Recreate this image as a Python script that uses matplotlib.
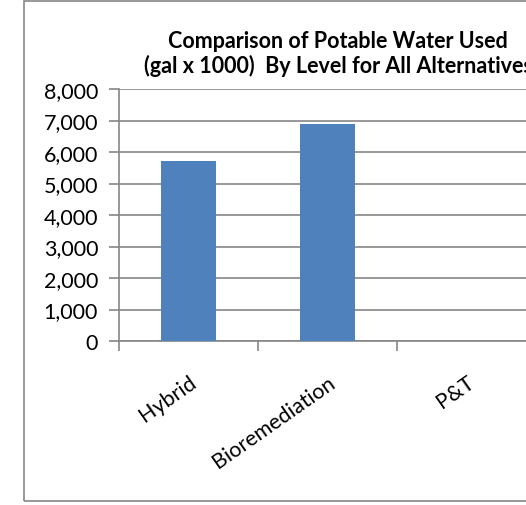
"""
Comparison of potable water used (gal x 1000) by level for all alternatives.
Recreated as an Excel-style column chart; the right side of the chart is
cropped off by the figure edge, as in the original screenshot.
"""

import matplotlib.pyplot as plt
from matplotlib.patches import Rectangle

# --- Data -----------------------------------------------------------------

CATEGORIES = ["Hybrid", "Bioremediation", "P&T"]
WATER_USED = [5700, 6900, 0]
Y_TICKS = [0, 1000, 2000, 3000, 4000, 5000, 6000, 7000, 8000]

TITLE = "Comparison of Potable Water Used\n(gal x 1000)  By Level for All Alternatives"

# --- Style ----------------------------------------------------------------

W, H = 526, 506
DPI = 100
BAR_COLOR = "#4F81BD"
GRID_COLOR = "#868686"
FONT = ["Lato", "DejaVu Sans"]
FS = 15.5

plt.rcParams["font.family"] = FONT


def px(x0, y_top, x1, y_bottom):
    """Pixel box -> figure fraction [left, bottom, width, height]."""
    return [x0 / W, 1 - y_bottom / H, (x1 - x0) / W, (y_bottom - y_top) / H]


def main():
    fig = plt.figure(figsize=(W / DPI, H / DPI), dpi=DPI)

    # chart area border (runs off the right edge)
    fig.patches.append(Rectangle((24 / W, 1 - 502 / H), 1.2, (502 - 2) / H,
                                 transform=fig.transFigure, fill=False,
                                 edgecolor=GRID_COLOR, linewidth=1.2))

    # plot area extends past the image's right edge
    ax = fig.add_axes(px(119, 90, 536, 342))
    x = range(len(CATEGORIES))
    ax.bar(x, WATER_USED, width=0.4, color=BAR_COLOR, zorder=3)

    ax.set_xlim(-0.5, len(CATEGORIES) - 0.5)
    ax.set_ylim(0, 8000)
    ax.set_yticks(Y_TICKS)
    ax.set_yticklabels([f"{v:,}" for v in Y_TICKS], fontsize=FS)
    ax.yaxis.grid(True, color=GRID_COLOR, linewidth=1.2, zorder=0)

    # category boundaries carry the tick marks, labels sit at centres
    ax.set_xticks([i - 0.5 for i in range(len(CATEGORIES) + 1)])
    ax.set_xticklabels([])
    ax.set_xticks(list(x), minor=True)
    ax.set_xticklabels(CATEGORIES, minor=True, fontsize=FS, rotation=35,
                       ha="right", va="top", rotation_mode="anchor")
    ax.tick_params(axis="x", which="minor", length=0, pad=22)
    ax.tick_params(axis="x", which="major", length=7, color=GRID_COLOR,
                   width=1.2, direction="out")
    ax.tick_params(axis="y", length=7, color=GRID_COLOR, width=1.2, pad=8)

    for side in ("top", "right"):
        ax.spines[side].set_visible(False)
    for side in ("left", "bottom"):
        ax.spines[side].set_color(GRID_COLOR)
        ax.spines[side].set_linewidth(1.2)

    fig.text(338 / W, 1 - 54 / H, TITLE, ha="center", va="center",
             fontsize=FS, fontweight="bold", linespacing=1.2)

    fig.savefig("out.png", dpi=DPI)


if __name__ == "__main__":
    main()
